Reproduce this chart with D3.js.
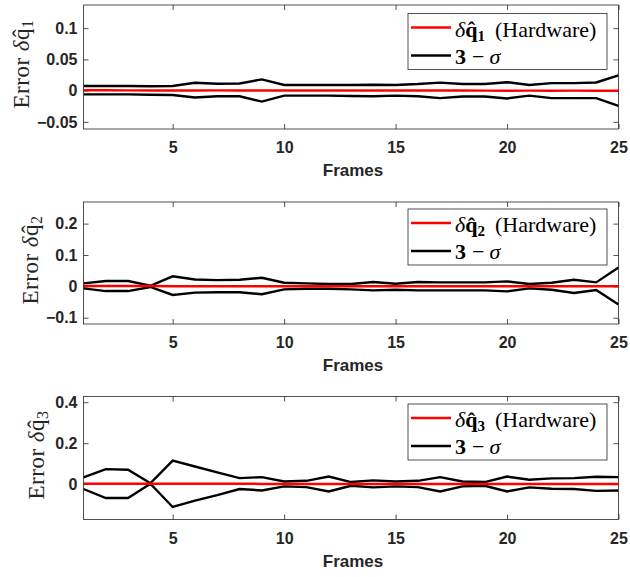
<!DOCTYPE html>
<html>
<head>
<meta charset="utf-8">
<script src="https://cdn.jsdelivr.net/npm/d3@7"></script>
<style>
  body { margin: 0; background: #fff; }
</style>
</head>
<body>
<div id="chart"></div>
<script>
  'use strict';

  // frame index (x axis)
  const frames = [1, 2, 3, 4, 5, 6, 7, 8, 9, 10, 11, 12, 13, 14, 15, 16, 17, 18, 19, 20, 21, 22, 23, 24, 25];
  const xTicks = [5, 10, 15, 20, 25];

  // q1 : hardware error and 3-sigma bounds
  const q1Hw = [0.0005, 0.0005, 0.0004, 0.0004, 0.0004, 0.0003, 0.0004, 0.0004, 0.0003, 0.0002, 0.0003, 0.0002, 0.0002, 0.0002, 0.0001, 0.0002, 0.0001, 0.0001, 0, -0.0001, 0, -0.0001, 0, -0.0001, -0.0001];
  const q1Upper = [0.0075, 0.0075, 0.0075, 0.007, 0.0075, 0.0125, 0.011, 0.0115, 0.018, 0.009, 0.009, 0.009, 0.009, 0.0095, 0.009, 0.0105, 0.0128, 0.0105, 0.0105, 0.0135, 0.009, 0.012, 0.012, 0.013, 0.0245];
  const q1Lower = [-0.006, -0.006, -0.006, -0.0065, -0.007, -0.011, -0.009, -0.009, -0.0175, -0.008, -0.008, -0.008, -0.0085, -0.009, -0.008, -0.009, -0.012, -0.0095, -0.0095, -0.0125, -0.008, -0.012, -0.012, -0.012, -0.0245];
  const q1Ticks = [-0.05, 0, 0.05, 0.1];

  // q2
  const q2Hw = [0.001, 0.001, 0.0008, 0.0008, 0.0006, 0.0006, 0.0005, 0.0005, 0.0004, 0.0004, 0.0003, 0.0003, 0.0003, 0.0002, 0.0002, 0.0002, 0.0001, 0.0001, 0.0001, 0, 0, 0, 0, 0, 0];
  const q2Upper = [0.0095, 0.017, 0.017, 0.002, 0.032, 0.022, 0.020, 0.021, 0.0275, 0.0116, 0.0095, 0.0074, 0.0074, 0.0137, 0.0085, 0.0137, 0.0127, 0.0127, 0.0127, 0.016, 0.0074, 0.0116, 0.021, 0.0127, 0.060];
  const q2Lower = [-0.0063, -0.015, -0.015, -0.002, -0.0275, -0.020, -0.019, -0.019, -0.025, -0.0095, -0.0074, -0.0074, -0.0095, -0.0127, -0.0106, -0.0127, -0.0127, -0.0127, -0.0127, -0.016, -0.0063, -0.0106, -0.021, -0.0116, -0.058];
  const q2Ticks = [-0.1, 0, 0.1, 0.2];

  // q3
  const q3Hw = [0.002, 0.002, 0.002, 0.002, 0.002, 0.002, 0.002, 0.002, 0.001, 0.001, 0.001, 0.001, 0.001, 0.001, 0.001, 0.001, 0.001, 0.001, 0.001, 0.001, 0.001, 0.001, 0.001, 0.001, 0.001];
  const q3Upper = [0.0325, 0.073, 0.070, 0.004, 0.115, 0.086, 0.057, 0.029, 0.034, 0.013, 0.016, 0.037, 0.010, 0.018, 0.013, 0.016, 0.034, 0.013, 0.010, 0.037, 0.021, 0.028, 0.029, 0.036, 0.034];
  const q3Lower = [-0.024, -0.068, -0.068, 0.002, -0.112, -0.081, -0.054, -0.024, -0.031, -0.011, -0.015, -0.036, -0.008, -0.016, -0.011, -0.015, -0.036, -0.011, -0.008, -0.036, -0.016, -0.023, -0.024, -0.033, -0.031];
  const q3Ticks = [0, 0.2, 0.4];

  const W = 630, H = 577;
  const left = 83.5, right = 618.5;
  const axisColor = '#262626';
  const sansFont = '"Liberation Sans", Arial, sans-serif';
  const serifFont = '"Liberation Serif", "Times New Roman", serif';

  const panels = [
    { sub: '1', hw: q1Hw, upper: q1Upper, lower: q1Lower, ticks: q1Ticks,
      top: 5, bottom: 129, domain: [-0.0614, 0.137], labelX: 29, legTop: 13.5 },
    { sub: '2', hw: q2Hw, upper: q2Upper, lower: q2Lower, ticks: q2Ticks,
      top: 202, bottom: 324, domain: [-0.120, 0.269], labelX: 38, legTop: 209 },
    { sub: '3', hw: q3Hw, upper: q3Upper, lower: q3Lower, ticks: q3Ticks,
      top: 396.5, bottom: 519.5, domain: [-0.173, 0.428], labelX: 44, legTop: 404 }
  ];

  const svg = d3.select('#chart').append('svg')
    .attr('width', W)
    .attr('height', H);

  const x = d3.scaleLinear().domain([1, 25]).range([left, right]);

  panels.forEach(p => {
    const y = d3.scaleLinear().domain(p.domain).range([p.bottom, p.top]);
    const g = svg.append('g');

    // bottom axis with labels, ticks pointing inward
    const bx = g.append('g')
      .attr('transform', `translate(0,${p.bottom})`)
      .call(d3.axisBottom(x).tickValues(xTicks).tickSizeInner(-5).tickSizeOuter(0).tickPadding(13));
    // top axis, ticks only
    const tx = g.append('g')
      .attr('transform', `translate(0,${p.top})`)
      .call(d3.axisTop(x).tickValues(xTicks).tickSizeInner(-5).tickSizeOuter(0).tickFormat(''));
    // left axis with labels
    const ly = g.append('g')
      .attr('transform', `translate(${left},0)`)
      .call(d3.axisLeft(y).tickValues(p.ticks).tickSizeInner(-5).tickSizeOuter(0).tickPadding(6).tickFormat(d3.format('~g')));
    // right axis, ticks only
    const ry = g.append('g')
      .attr('transform', `translate(${right},0)`)
      .call(d3.axisRight(y).tickValues(p.ticks).tickSizeInner(-5).tickSizeOuter(0).tickFormat(''));

    [bx, tx, ly, ry].forEach(a => {
      a.select('.domain').remove();
      a.selectAll('line').attr('stroke', axisColor).attr('stroke-width', 0.8);
      a.selectAll('text')
        .attr('fill', axisColor)
        .attr('font-family', sansFont)
        .attr('font-weight', 'bold')
        .attr('font-size', 16);
    });

    // x label
    g.append('text')
      .attr('x', (left + right) / 2 + 2)
      .attr('y', p.bottom + 47)
      .attr('text-anchor', 'middle')
      .attr('font-family', sansFont)
      .attr('font-weight', 'bold')
      .attr('font-size', 17)
      .attr('fill', axisColor)
      .text('Frames');

    // y label
    const yl = g.append('text')
      .attr('transform', `translate(${p.labelX},${(p.top + p.bottom) / 2 - 3}) rotate(-90)`)
      .attr('text-anchor', 'middle')
      .attr('font-family', serifFont)
      .attr('font-size', 23)
      .attr('letter-spacing', 0.5)
      .attr('fill', axisColor);
    yl.append('tspan').text('Error ');
    yl.append('tspan').attr('font-style', 'italic').text('\u03b4');
    yl.append('tspan').text('q\u0302');
    yl.append('tspan').attr('font-size', 16).attr('dy', 4).text(p.sub);

    // lines
    const line = d3.line().x((d, i) => x(frames[i])).y(d => y(d));

    g.append('path').datum(p.upper)
      .attr('d', line).attr('fill', 'none').attr('stroke', '#000').attr('stroke-width', 2.4);
    g.append('path').datum(p.lower)
      .attr('d', line).attr('fill', 'none').attr('stroke', '#000').attr('stroke-width', 2.4);
    g.append('path').datum(p.hw)
      .attr('d', line).attr('fill', 'none').attr('stroke', '#ff0000').attr('stroke-width', 2.5);

    // box
    g.append('rect')
      .attr('x', left).attr('y', p.top)
      .attr('width', right - left).attr('height', p.bottom - p.top)
      .attr('fill', 'none').attr('stroke', axisColor).attr('stroke-width', 0.8);

    // legend
    const lg = g.append('g');
    lg.append('rect')
      .attr('x', 408).attr('y', p.legTop)
      .attr('width', 199).attr('height', 56)
      .attr('fill', '#fff').attr('stroke', axisColor).attr('stroke-width', 0.8);

    const row1 = p.legTop + 14, row2 = p.legTop + 42;
    lg.append('line')
      .attr('x1', 411).attr('x2', 451).attr('y1', row1).attr('y2', row1)
      .attr('stroke', '#ff0000').attr('stroke-width', 2.5);
    lg.append('line')
      .attr('x1', 411).attr('x2', 451).attr('y1', row2).attr('y2', row2)
      .attr('stroke', '#000').attr('stroke-width', 2.4);

    const t1 = lg.append('text')
      .attr('x', 455).attr('y', row1 + 9)
      .attr('font-family', serifFont).attr('font-size', 22).attr('fill', '#000');
    t1.append('tspan').attr('font-style', 'italic').text('\u03b4');
    t1.append('tspan').attr('font-weight', 'bold').text('q\u0302');
    t1.append('tspan').attr('font-weight', 'bold').attr('font-size', 15).attr('dy', 4).text(p.sub);
    t1.append('tspan').attr('dy', -4).attr('dx', 10).text('(Hardware)');

    const t2 = lg.append('text')
      .attr('x', 455).attr('y', row2 + 8)
      .attr('font-family', serifFont).attr('font-size', 22).attr('fill', '#000');
    t2.append('tspan').attr('font-weight', 'bold').text('3');
    t2.append('tspan').attr('dx', 6).text('\u2212');
    t2.append('tspan').attr('dx', 5).attr('font-style', 'italic').text('\u03c3');
  });
</script>
</body>
</html>
